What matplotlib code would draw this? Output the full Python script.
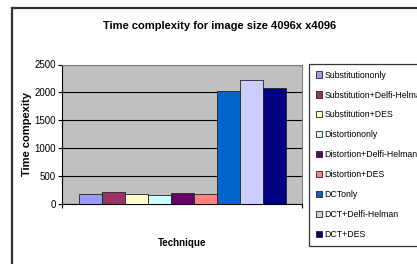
import numpy as np
import matplotlib
matplotlib.use("Agg")
import matplotlib.pyplot as plt
from matplotlib.patches import Rectangle

# ---------------- DATA ----------------
techniques = [
    "Substitutiononly",
    "Substitution+Delfi-Helman",
    "Substitution+DES",
    "Distortiononly",
    "Distortion+Delfi-Helman",
    "Distortion+DES",
    "DCTonly",
    "DCT+Delfi-Helman",
    "DCT+DES",
]
times = [180, 216, 185, 167, 203, 180, 2032, 2230, 2080]
colors = ["#9999FF", "#993366", "#FFFFCC", "#CCFFFF", "#660066",
          "#FF8080", "#0066CC", "#CCCCFF", "#000080"]
yticks = [0, 500, 1000, 1500, 2000, 2500]
# --------------------------------------

plt.rcParams['font.family'] = ['Liberation Sans', 'DejaVu Sans']

W, H = 417, 264
fig = plt.figure(figsize=(W / 100, H / 100), dpi=100)
fig.patch.set_facecolor("white")

# outer chart frame (cut off at right and bottom in the source)
fig.patches.append(Rectangle((12 / W, -0.2), 1.5, 1 - 8 / H + 0.2,
                             transform=fig.transFigure, fill=False,
                             edgecolor="#333333", linewidth=1.6))

ax = fig.add_axes([62 / W, 60 / H, 240 / W, 139.5 / H])
ax.set_facecolor("#C0C0C0")

x = np.arange(len(times)) - (len(times) - 1) / 2
bars = ax.bar(x, times, width=1.0, color=colors, edgecolor="#222222",
              linewidth=0.6, zorder=3, label=techniques)

ax.set_xlim(-5.24, 5.2)
ax.set_ylim(0, 2500)
ax.set_yticks(yticks)
ax.set_yticklabels([str(v) for v in yticks], fontsize=7)
ax.set_xticks([-5.24, 5.2])
ax.set_xticklabels(["", ""])
ax.tick_params(axis="both", direction="out", length=3, width=0.8,
               colors="black", pad=1.5)
ax.yaxis.grid(True, color="black", linewidth=0.8, zorder=1)
ax.set_axisbelow(True)

for side in ["top", "right"]:
    ax.spines[side].set_color("#808080")
    ax.spines[side].set_linewidth(0.8)
for side in ["left", "bottom"]:
    ax.spines[side].set_color("black")
    ax.spines[side].set_linewidth(0.8)

ax.set_ylabel("Time compexity", fontsize=8, fontweight="bold")
ax.yaxis.set_label_coords(-0.125, 0.5)

fig.text(182 / W, 1 - 243 / H, "Technique", fontsize=7, fontweight="bold",
         ha="center", va="center")
fig.text(220 / W, 1 - 26 / H, "Time complexity for image size 4096x x4096",
         fontsize=8, fontweight="bold", ha="center", va="center")

leg = fig.legend(bars, techniques, loc="upper left",
                 bbox_to_anchor=(309 / W, 1 - 64 / H), fontsize=6.3,
                 frameon=True, fancybox=False, shadow=False,
                 handlelength=0.7, handleheight=0.7, handletextpad=0.3,
                 labelspacing=1.25, borderpad=0.75, borderaxespad=0)
leg.get_frame().set_edgecolor("black")
leg.get_frame().set_linewidth(0.9)

fig.savefig("out.png", dpi=100)
